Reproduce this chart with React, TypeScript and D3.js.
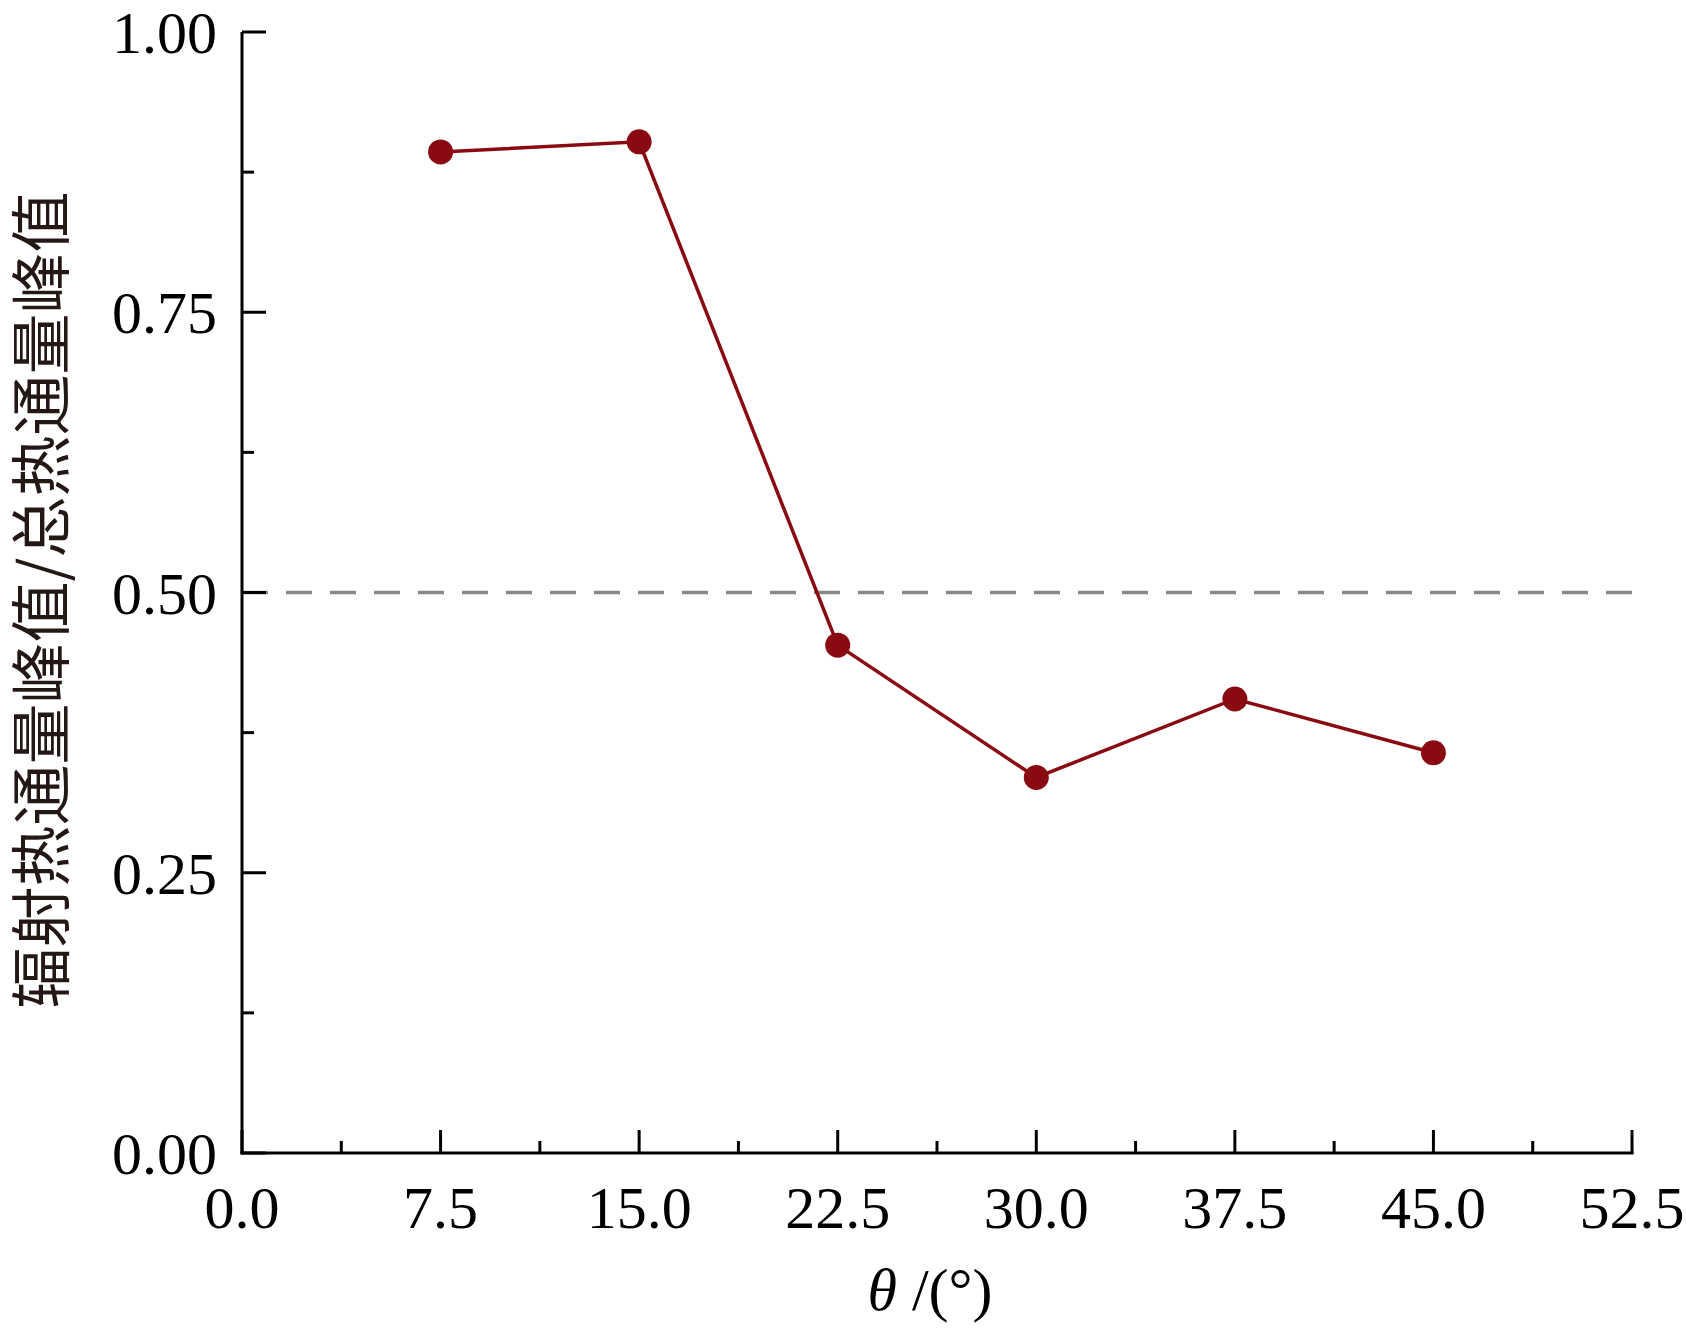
import React from "react";
import * as d3 from "d3";

const angles = [7.5, 15.0, 22.5, 30.0, 37.5, 45.0];
const ratios = [0.893, 0.902, 0.453, 0.335, 0.405, 0.357];
const xTicks = [0, 7.5, 15, 22.5, 30, 37.5, 45, 52.5];
const xMinorTicks = [3.75, 11.25, 18.75, 26.25, 33.75, 41.25, 48.75];
const yTicks = [0, 0.25, 0.5, 0.75, 1.0];
const yMinorTicks = [0.125, 0.375, 0.625, 0.875];
const referenceLevel = 0.5;
const yLabel = "辐射热通量峰值/总热通量峰值";

const W = 1686;
const H = 1334;
const margin = { left: 242, right: 54, top: 32, bottom: 181 };

export default function App() {
  const x = d3.scaleLinear().domain([0, 52.5]).range([margin.left, W - margin.right]);
  const y = d3.scaleLinear().domain([0, 1]).range([H - margin.bottom, margin.top]);
  const line = d3
    .line<number>()
    .x((_, i) => x(angles[i]))
    .y((d) => y(d));
  const serif = "'Liberation Serif', 'Times New Roman', serif";
  const color = "#8a0a12";
  const x0 = x(0);
  const y0 = y(0);
  return (
    <svg
      width={W}
      height={H}
      style={{ position: "absolute", left: 0, top: 0, background: "#fff" }}
    >
      <rect x={0} y={0} width={W} height={H} fill="#fff" />
      {/* reference dashed line */}
      <line
        x1={x(0)}
        x2={x(52.5)}
        y1={y(referenceLevel)}
        y2={y(referenceLevel)}
        stroke="#888888"
        strokeWidth={3.5}
        strokeDasharray="26 18"
      />
      {/* axes */}
      <g stroke="#000" strokeWidth={3} fill="none">
        <line x1={x0} x2={x0} y1={y(1)} y2={y0 + 1.5} />
        <line x1={x0 - 1.5} x2={x(52.5) + 1.5} y1={y0} y2={y0} />
        {yTicks.map((t) => (
          <line key={"ym" + t} x1={x0} x2={x0 + 24} y1={y(t)} y2={y(t)} />
        ))}
        {yMinorTicks.map((t) => (
          <line key={"yn" + t} x1={x0} x2={x0 + 12} y1={y(t)} y2={y(t)} />
        ))}
        {xTicks.map((t) => (
          <line key={"xm" + t} x1={x(t)} x2={x(t)} y1={y0} y2={y0 - 23} />
        ))}
        {xMinorTicks.map((t) => (
          <line key={"xn" + t} x1={x(t)} x2={x(t)} y1={y0} y2={y0 - 12} />
        ))}
      </g>
      {/* tick labels */}
      <g fontFamily={serif} fontSize={60} fill="#000">
        {yTicks.map((t) => (
          <text key={"yl" + t} x={x0 - 25} y={y(t)} dy="0.35em" textAnchor="end">
            {d3.format(".2f")(t)}
          </text>
        ))}
        {xTicks.map((t) => (
          <text key={"xl" + t} x={x(t)} y={1228} textAnchor="middle">
            {d3.format(".1f")(t)}
          </text>
        ))}
      </g>
      {/* data */}
      <path d={line(ratios) || ""} fill="none" stroke={color} strokeWidth={3.5} />
      {ratios.map((v, i) => (
        <circle key={"p" + i} cx={x(angles[i])} cy={y(v)} r={12.5} fill={color} />
      ))}
      {/* axis titles */}
      <text x={930} y={1310} textAnchor="middle" fontFamily={serif} fontSize={60} fill="#000">
        <tspan fontStyle="italic">θ</tspan>
        <tspan> /(°)</tspan>
      </text>
      <text
        transform={`translate(37, 600) rotate(-90)`}
        textAnchor="middle"
        dominantBaseline="central"
        fontFamily="'Noto Sans CJK SC', sans-serif"
        fontSize={61}
        fill="#231815"
      >
        {yLabel}
      </text>
    </svg>
  );
}
